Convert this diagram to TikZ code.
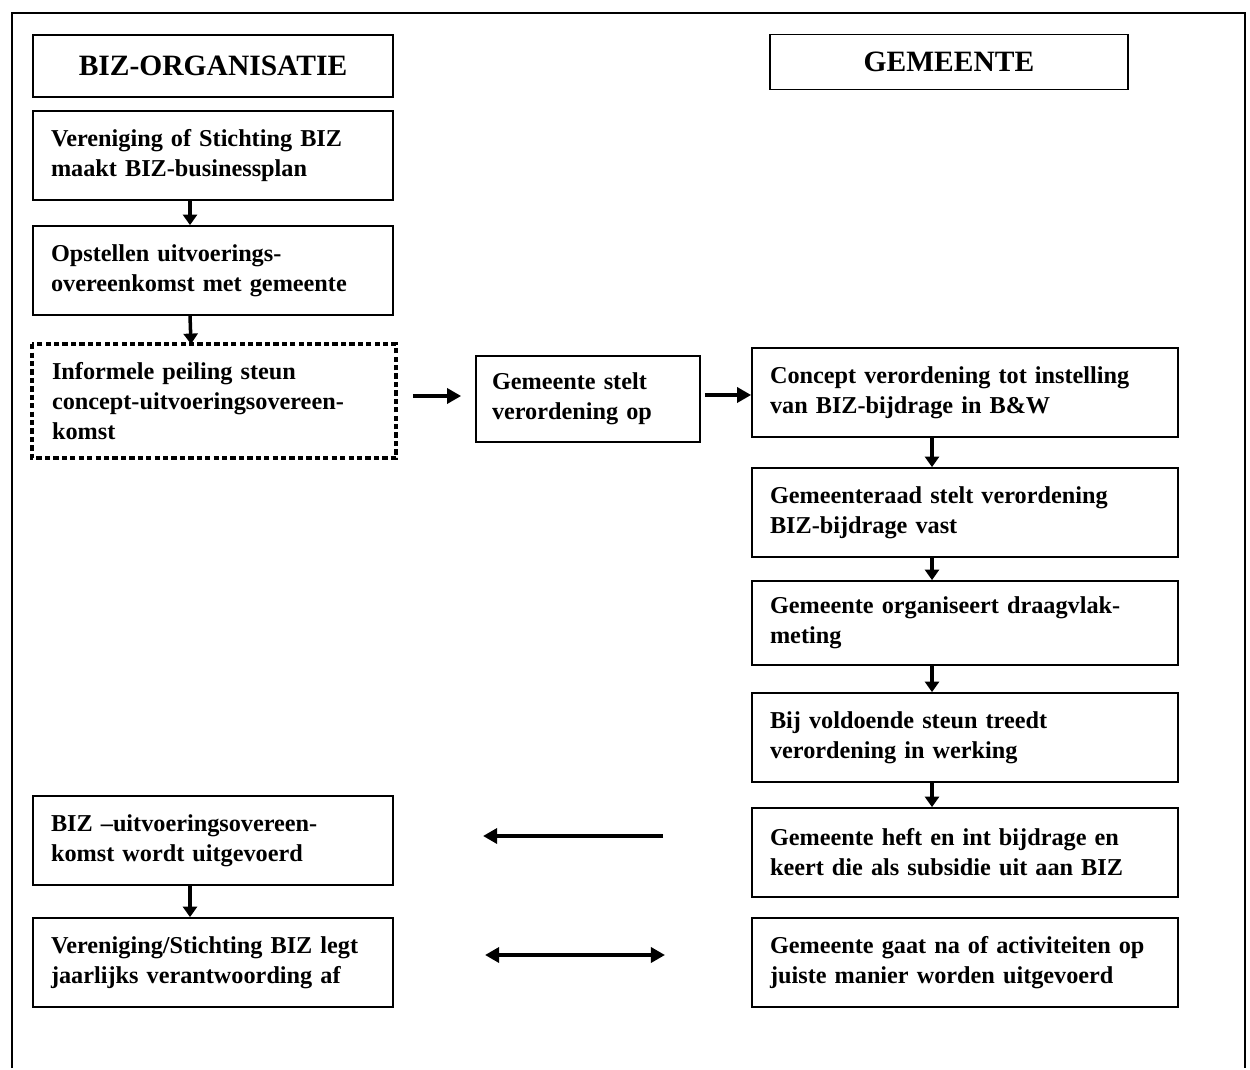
\documentclass[tikz,border=0pt]{standalone}
\usepackage{fontspec}
\setmainfont{Liberation Serif}
\usetikzlibrary{arrows.meta}

\begin{document}
\begin{tikzpicture}[x=0.02cm, y=-0.02cm,
  box/.style={draw, line width=1pt, align=left, inner xsep=0.36cm,
    font=\bfseries\fontsize{13.8}{17}\selectfont},
  lbox/.style={box, minimum width=7.2cm, minimum height=1.78cm, text width=6.48cm},
  rbox/.style={box, minimum width=8.52cm, minimum height=1.78cm, text width=7.8cm},
  titel/.style={draw, line width=1pt, font=\bfseries\fontsize{16.8}{20}\selectfont},
  arr/.style={line width=2pt, -{Triangle[length=6pt, width=8pt]}},
  harr/.style={line width=2.2pt, -{Triangle[length=8pt, width=8.5pt]}}]
\useasboundingbox (0, 0) rectangle (1250, 1070);
\draw [line width=1pt] (12, 1068) -- (12, 13) -- (1245, 13) -- (1245, 1068);

% kopjes
\node [titel, minimum width=7.2cm, minimum height=1.24cm] (org) at (213, 66) {BIZ-ORGANISATIE};
\node [titel, minimum width=7.16cm, minimum height=1.1cm] (gem) at (949, 62) {GEMEENTE};

% BIZ-organisatie
\node [lbox] (plan) at (213, 155.5) {Vereniging of Stichting BIZ\\maakt BIZ-businessplan};
\node [lbox] (opst) at (213, 270.5) {Opstellen uitvoerings-\\overeenkomst met gemeente};
\node [lbox, draw=none, minimum width=7.24cm, minimum height=2.24cm] (peil) at (214, 401) {Informele peiling steun\\concept-uitvoeringsovereen-\\komst};
\draw [line width=2.6pt, dash pattern=on 3pt off 1.8pt] (peil.north west) rectangle (peil.south east);
\node [lbox] (uitv) at (213, 840.5) {BIZ –uitvoeringsovereen-\\komst wordt uitgevoerd};
\node [lbox] (verant) at (213, 962.5) {Vereniging/Stichting BIZ legt\\jaarlijks verantwoording af};

% gemeente
\node [box, minimum width=4.48cm, minimum height=1.72cm, inner xsep=0.32cm, text width=3.84cm] (stelt) at (588, 399) {Gemeente stelt\\verordening op};
\node [rbox] (concept) at (965, 392.5) {Concept verordening tot instelling\\van BIZ-bijdrage in B\&W};
\node [rbox] (raad) at (965, 512.5) {Gemeenteraad stelt verordening\\BIZ-bijdrage vast};
\node [rbox, minimum height=1.68cm] (meting) at (965, 623) {Gemeente organiseert draagvlak-\\meting};
\node [rbox] (steun) at (965, 737.5) {Bij voldoende steun treedt\\verordening in werking};
\node [rbox] (heft) at (965, 852.5) {Gemeente heft en int bijdrage en\\keert die als subsidie uit aan BIZ};
\node [rbox] (gaatna) at (965, 962.5) {Gemeente gaat na of activiteiten op\\juiste manier worden uitgevoerd};

\coordinate (p1) at (663, 836);
\coordinate (p2) at (483, 836);
\coordinate (p3) at (485, 955);
\coordinate (p4) at (665, 955);

% pijlen
\draw [arr] ([xshift=-0.46cm]plan.south) -- ([xshift=-0.46cm]opst.north);
\draw [arr] ([xshift=-0.46cm]opst.south) -- ([xshift=-0.46cm]peil.north);
\draw [arr] ([xshift=-0.46cm]uitv.south) -- ([xshift=-0.46cm]verant.north);
\draw [harr, shorten <=0.34cm, shorten >=0.28cm] ([yshift=0.1cm]peil.east) -- ([yshift=0.1cm]peil.east -| stelt.west);
\draw [harr, shorten <=0.08cm] ([yshift=0.08cm]stelt.east) -- ([yshift=0.08cm]stelt.east -| concept.west);
\foreach \a/\b in {concept/raad, raad/meting, meting/steun, steun/heft}
  {\draw [arr] ([xshift=-0.66cm]\a.south) -- ([xshift=-0.66cm]\b.north);}
\draw [harr] (p1) -- (p2);
\draw [harr, {Triangle[length=8pt, width=8.5pt]}-{Triangle[length=8pt, width=8.5pt]}] (p3) -- (p4);
\end{tikzpicture}
\end{document}
